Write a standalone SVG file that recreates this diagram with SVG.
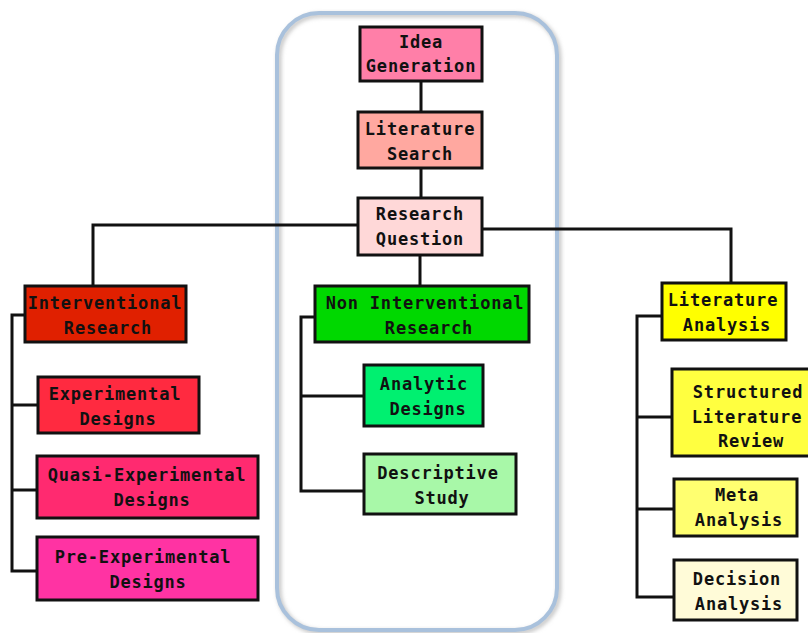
<svg xmlns="http://www.w3.org/2000/svg" width="808" height="633" viewBox="0 0 808 633">
<defs>
<style>
.box{stroke:#111;stroke-width:3}
.t{font-family:"DejaVu Sans Mono","Liberation Mono",monospace;font-weight:bold;font-size:17px;letter-spacing:0.8px;fill:#111;text-anchor:middle}
.c{fill:none;stroke:#111;stroke-width:3}
</style>
<filter id="sh" x="-10%" y="-10%" width="120%" height="120%">
<feGaussianBlur stdDeviation="2"/>
</filter>
</defs>
<rect width="808" height="633" fill="#fff"/>
<g id="container">
<rect x="279" y="15" width="280" height="617" rx="42" fill="none" stroke="#bbb" stroke-width="4" filter="url(#sh)"/>
<rect x="277" y="13" width="280" height="617" rx="42" fill="none" stroke="#a9c1dc" stroke-width="4"/>
</g>
<g id="connectors">
<path class="c" d="M421,81V112M421,168V198"/>
<path class="c" d="M358,225H93V286"/>
<path class="c" d="M420,255V286"/>
<path class="c" d="M482,229H731V283"/>
<path class="c" d="M25,315H12V571H37M12,405H38M12,490H37"/>
<path class="c" d="M315,317H301V491H364M301,396H364"/>
<path class="c" d="M662,316H637V597H674M637,417H672M637,509H674"/>
</g>
<g id="idea"><rect class="box" x="360" y="27" width="122" height="54" fill="#ff7fa8"/><text class="t" x="421" y="48">Idea</text><text class="t" x="421" y="72">Generation</text></g>
<g id="litsearch"><rect class="box" x="358" y="112" width="124" height="56" fill="#ffa8a0"/><text class="t" x="420" y="135">Literature</text><text class="t" x="420" y="160">Search</text></g>
<g id="rq"><rect class="box" x="358" y="198" width="124" height="57" fill="#ffd8d8"/><text class="t" x="420" y="220">Research</text><text class="t" x="420" y="245">Question</text></g>
<g id="interventional"><rect class="box" x="25" y="286" width="161" height="56" fill="#e02000"/><text class="t" x="105" y="309">Interventional</text><text class="t" x="108" y="334">Research</text></g>
<g id="experimental"><rect class="box" x="38" y="377" width="161" height="56" fill="#ff2a40"/><text class="t" x="115" y="400">Experimental</text><text class="t" x="118" y="425">Designs</text></g>
<g id="quasi"><rect class="box" x="37" y="456" width="221" height="62" fill="#ff2a70"/><text class="t" x="147" y="481">Quasi-Experimental</text><text class="t" x="152" y="506">Designs</text></g>
<g id="pre"><rect class="box" x="37" y="537" width="221" height="63" fill="#ff33a3"/><text class="t" x="143" y="563">Pre-Experimental</text><text class="t" x="148" y="588">Designs</text></g>
<g id="noninterventional"><rect class="box" x="315" y="286" width="214" height="56" fill="#00d800"/><text class="t" x="425" y="309">Non Interventional</text><text class="t" x="429" y="334">Research</text></g>
<g id="analytic"><rect class="box" x="364" y="365" width="119" height="61" fill="#00f070"/><text class="t" x="424" y="390">Analytic</text><text class="t" x="428" y="415">Designs</text></g>
<g id="descriptive"><rect class="box" x="364" y="454" width="152" height="60" fill="#a8f8a8"/><text class="t" x="438" y="479">Descriptive</text><text class="t" x="442" y="504">Study</text></g>
<g id="litanalysis"><rect class="box" x="662" y="283" width="124" height="57" fill="#ffff00"/><text class="t" x="723" y="306">Literature</text><text class="t" x="727" y="331">Analysis</text></g>
<g id="structured"><rect class="box" x="672" y="369" width="152" height="87" fill="#ffff40"/><text class="t" x="748" y="398">Structured</text><text class="t" x="747" y="423">Literature</text><text class="t" x="751" y="447">Review</text></g>
<g id="meta"><rect class="box" x="674" y="479" width="123" height="57" fill="#ffff70"/><text class="t" x="737" y="501">Meta</text><text class="t" x="739" y="526">Analysis</text></g>
<g id="decision"><rect class="box" x="674" y="560" width="123" height="60" fill="#fffbd8"/><text class="t" x="737" y="585">Decision</text><text class="t" x="739" y="610">Analysis</text></g>
</svg>
